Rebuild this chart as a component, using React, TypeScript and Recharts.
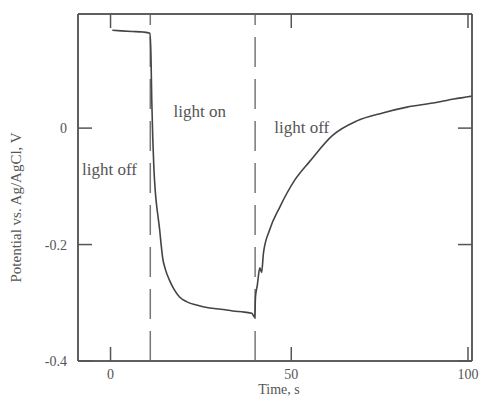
import React from 'react';
import { LineChart, Line, XAxis, YAxis, ReferenceLine, ReferenceDot } from 'recharts';

// photopotential transient: time (s) vs potential (V vs Ag/AgCl)
const timeS = [
  0.5, 3, 6, 9, 10.9, 11.2, 11.4, 11.7, 12.0, 12.4, 12.7, 13.2, 13.6, 14.0, 14.4,
  15.2, 16.3, 17.5, 19.1, 21.0, 23.8, 27.4, 30.5, 33.8, 37.0, 39.1, 39.9, 40.1,
  40.6, 41.3, 41.8, 42.3, 44.0, 46.8, 51.0, 55.0, 61.5, 68.0, 75.3, 82.0, 89.2, 95.0, 100,
];
const potentialV = [
  0.168, 0.167, 0.166, 0.165, 0.163, 0.12, 0.05, -0.02, -0.07, -0.11, -0.13, -0.155,
  -0.175, -0.2, -0.222, -0.243, -0.261, -0.276, -0.29, -0.298, -0.304, -0.309, -0.311,
  -0.314, -0.316, -0.318, -0.325, -0.29, -0.27, -0.24, -0.248, -0.215, -0.175, -0.136,
  -0.089, -0.058, -0.012, 0.012, 0.026, 0.036, 0.043, 0.05, 0.055,
];

const lightSwitchS = [11, 40];
const xTicks = [0, 50, 100];
const yTicks = [-0.4, -0.2, 0];
const yTickLabels = ['-0.4', '-0.2', '0'];
const regionLabels = ['light off', 'light on', 'light off'];
const regionAnchorT = [-0.3, 24.7, 52.9];
const regionAnchorV = [-0.07, 0.029, 0.002];

const X_DOMAIN: [number, number] = [-9, 100];
const Y_DOMAIN: [number, number] = [-0.4, 0.196];

const data = timeS.map((t, i) => ({ t, v: potentialV[i] }));

const INK = '#555';
const FONT = '"Liberation Serif", "DejaVu Serif", serif';
const TICK_LEN = 14;

const BottomTick = (props: any) => {
  const { x, y, payload } = props;
  return (
    <g>
      <line x1={x} y1={y} x2={x} y2={y - TICK_LEN} stroke={INK} strokeWidth={1.5} />
      <text x={x} y={y + 18} textAnchor="middle" fontSize={14} fontFamily={FONT} fill={INK}>
        {payload.value}
      </text>
    </g>
  );
};

const TopTick = (props: any) => {
  const { x, y } = props;
  return <line x1={x} y1={y} x2={x} y2={y + TICK_LEN} stroke={INK} strokeWidth={1.5} />;
};

const LeftTick = (props: any) => {
  const { x, y, payload } = props;
  const idx = yTicks.indexOf(payload.value);
  return (
    <g>
      <line x1={x} y1={y} x2={x + TICK_LEN} y2={y} stroke={INK} strokeWidth={1.5} />
      <text x={x - 11} y={y + 5} textAnchor="end" fontSize={14} fontFamily={FONT} fill={INK}>
        {idx >= 0 ? yTickLabels[idx] : payload.value}
      </text>
    </g>
  );
};

const RightTick = (props: any) => {
  const { x, y } = props;
  return <line x1={x} y1={y} x2={x - TICK_LEN} y2={y} stroke={INK} strokeWidth={1.5} />;
};

export default function App() {
  return (
    <div style={{ position: 'absolute', left: 0, top: 0, width: 480, height: 398, background: '#fff' }}>
      <LineChart width={480} height={398} data={data} margin={{ top: 13, right: 7, bottom: 0, left: 0 }}>
        <XAxis
          dataKey="t"
          type="number"
          domain={X_DOMAIN}
          ticks={xTicks}
          allowDataOverflow
          height={37}
          tickSize={0}
          tickMargin={0}
          tick={BottomTick}
          stroke={INK}
          strokeWidth={1.5}
          label={{ value: 'Time, s', position: 'insideBottom', offset: 4, dx: 4, fontSize: 14, fontFamily: FONT, fill: INK }}
        />
        <XAxis
          xAxisId="top"
          orientation="top"
          dataKey="t"
          type="number"
          domain={X_DOMAIN}
          ticks={xTicks}
          allowDataOverflow
          height={1}
          tickSize={0}
          tickMargin={0}
          tick={TopTick}
          stroke={INK}
          strokeWidth={1.5}
        />
        <YAxis
          type="number"
          domain={Y_DOMAIN}
          ticks={yTicks}
          allowDataOverflow
          width={78}
          tickSize={0}
          tickMargin={0}
          tick={LeftTick}
          stroke={INK}
          strokeWidth={1.5}
          label={{
            value: 'Potential vs. Ag/AgCl, V',
            angle: -90,
            position: 'insideLeft',
            offset: 16,
            dy: 95,
            fontSize: 15,
            fontFamily: FONT,
            fill: INK,
          }}
        />
        <YAxis
          yAxisId="right"
          orientation="right"
          type="number"
          domain={Y_DOMAIN}
          ticks={yTicks}
          allowDataOverflow
          width={1}
          tickSize={0}
          tickMargin={0}
          tick={RightTick}
          stroke={INK}
          strokeWidth={1.5}
        />
        {/* plot frame */}
        <ReferenceLine x={X_DOMAIN[0]} stroke={INK} strokeWidth={1.5} ifOverflow="extendDomain" />
        <ReferenceLine x={X_DOMAIN[1]} stroke={INK} strokeWidth={1.5} ifOverflow="extendDomain" />
        <ReferenceLine y={Y_DOMAIN[0]} stroke={INK} strokeWidth={1.5} ifOverflow="extendDomain" />
        <ReferenceLine y={Y_DOMAIN[1]} stroke={INK} strokeWidth={1.5} ifOverflow="extendDomain" />
        {lightSwitchS.map((s) => (
          <ReferenceLine key={s} x={s} stroke="#777" strokeWidth={1.5} strokeDasharray="30 12" />
        ))}
        <Line
          type="monotone"
          dataKey="v"
          stroke="#444"
          strokeWidth={1.6}
          dot={false}
          isAnimationActive={false}
        />
        {regionLabels.map((txt, i) => (
          <ReferenceDot
            key={i}
            x={regionAnchorT[i]}
            y={regionAnchorV[i]}
            r={0}
            stroke="none"
            fill="none"
            label={{ value: txt, position: 'center', fontSize: 17, fontFamily: FONT, fill: INK }}
          />
        ))}
      </LineChart>
    </div>
  );
}
